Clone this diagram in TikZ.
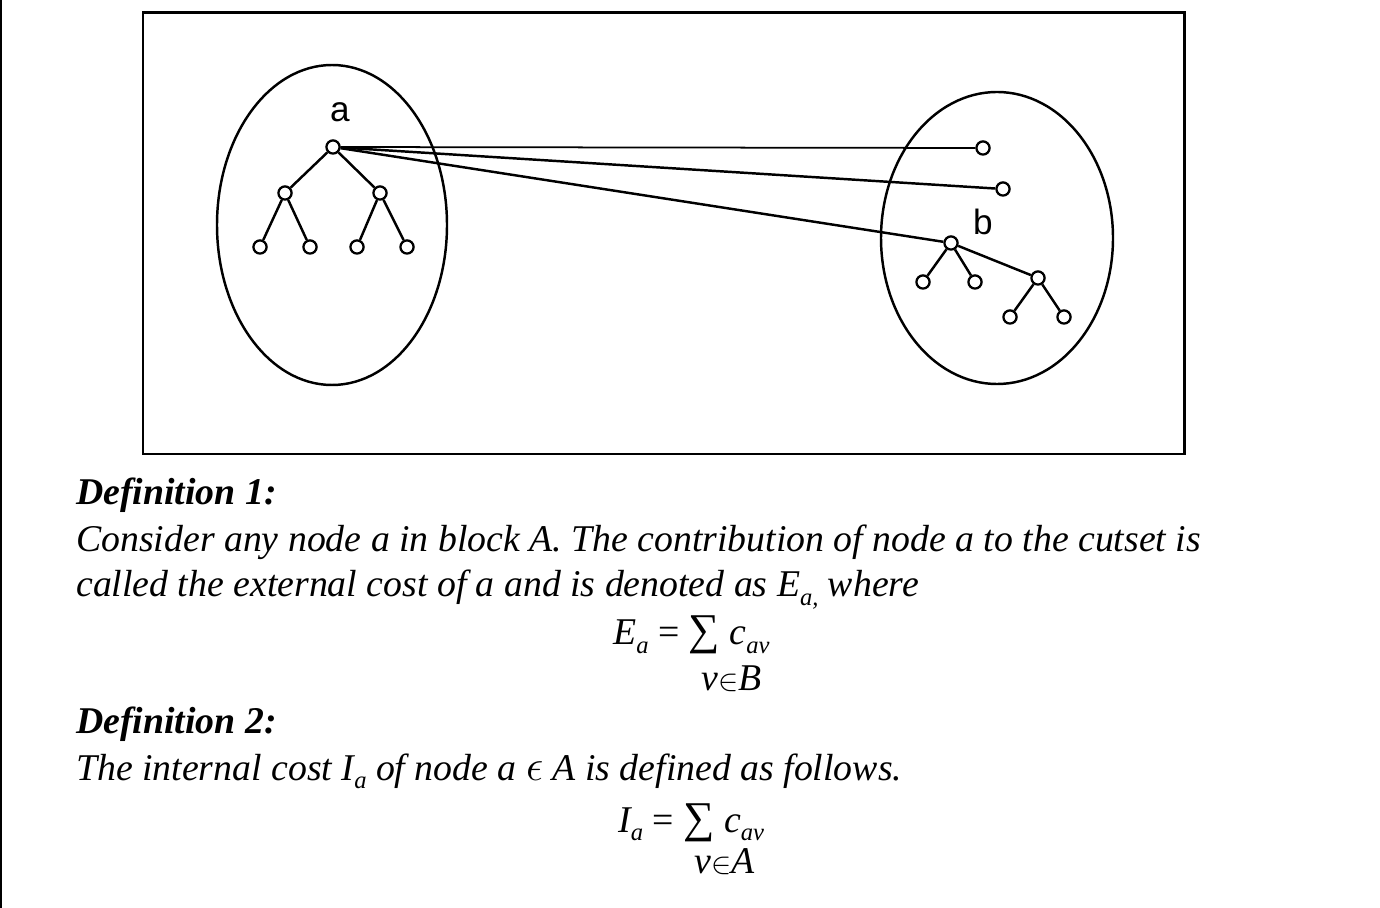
\documentclass[tikz,border=0pt]{standalone}
\usepackage{fontspec}
\setmainfont{Liberation Serif}
\newfontfamily\labelfont{Liberation Sans}
\newcommand{\lowsub}[1]{\raisebox{-0.5ex}{\fontsize{14}{14}\selectfont #1}}
\newcommand{\bigsum}{{\upshape\fontsize{25}{25}\selectfont ∑}}
\newcommand{\elem}{{\fontsize{17}{17}\selectfont$\in$}}
\tikzset{
  vert/.style={circle,draw,fill=white,line width=1.3pt,inner sep=0pt,minimum size=7.5pt},
  lbl/.style={font=\labelfont\fontsize{20}{20}\selectfont},
  txt/.style={anchor=base west,inner sep=0pt,font=\fontsize{21.5}{24}\selectfont\itshape},
  hdr/.style={anchor=base west,inner sep=0pt,font=\fontsize{21.5}{24}\selectfont\bfseries\itshape}
}
\begin{document}
\begin{tikzpicture}[x=0.02cm,y=-0.02cm,line width=1.4pt]
  \useasboundingbox (0,0) rectangle (1380,908);
  \draw[line width=0.8pt] (1,0) -- (1,908);
  % frame and blocks
  \draw[line width=1.7pt] (143,13) rectangle (1184,454);
  \draw (332,225) ellipse [x radius=115, y radius=160];
  \draw (997,238) ellipse [x radius=116, y radius=146];
  % block A
  \draw
    (333,147) node[vert] (a){}
    (285,193) node[vert] (a1){}
    (380,193) node[vert] (a2){}
    (260,247) node[vert] (a11){}
    (310,247) node[vert] (a12){}
    (357,247) node[vert] (a21){}
    (407,247) node[vert] (a22){};
  \node[lbl] (la) at (340,112) {a};
  % block B
  \draw
    (983,148) node[vert] (v1){}
    (1003,189) node[vert] (v2){}
    (951,243) node[vert] (b){}
    (923,282) node[vert] (b1){}
    (975,282) node[vert] (b2){}
    (1038,278) node[vert] (b3){}
    (1010,317) node[vert] (b31){}
    (1064,317) node[vert] (b32){};
  \node[lbl] (lb) at (983,222) {b};
  \begin{scope}[-]
    \draw (a) to (a1);
    \draw (a) to (a2);
    \draw (a1) to (a11);
    \draw (a1) to (a12);
    \draw (a2) to (a21);
    \draw (a2) to (a22);
    \draw (b) to (b1);
    \draw (b) to (b2);
    \draw (b) to (b3);
    \draw (b3) to (b31);
    \draw (b3) to (b32);
    \draw[line width=1pt] (a) to (v1);
    \draw (a) to (v2);
    \draw (a) to (b);
  \end{scope}
  % definitions
  \node[hdr] (d1) at (75,505) {Definition 1:};
  \node[txt] (t1) at (75,552) {Consider any node a in block A. The contribution of node a to the cutset is};
  \node[txt] (t2) at (75,597) {called the external cost of a and is denoted as E\lowsub{a,} where};
  \node[txt] (f1) at (612,645) {E\lowsub{a} {\upshape =} \bigsum\ c\lowsub{av}};
  \node[txt] (s1) at (700,690) {v\elem B};
  \node[hdr] (d2) at (75,733) {Definition 2:};
  \node[txt] (t3) at (75,780) {The internal cost I\lowsub{a} of node a {\fontsize{24}{24}\selectfont$\epsilon$} A is defined as follows.};
  \node[txt] (f2) at (617,832) {I\lowsub{a} {\upshape =} \bigsum\ c\lowsub{av}};
  \node[txt] (s2) at (693,873) {v\elem A};
\end{tikzpicture}
\end{document}
